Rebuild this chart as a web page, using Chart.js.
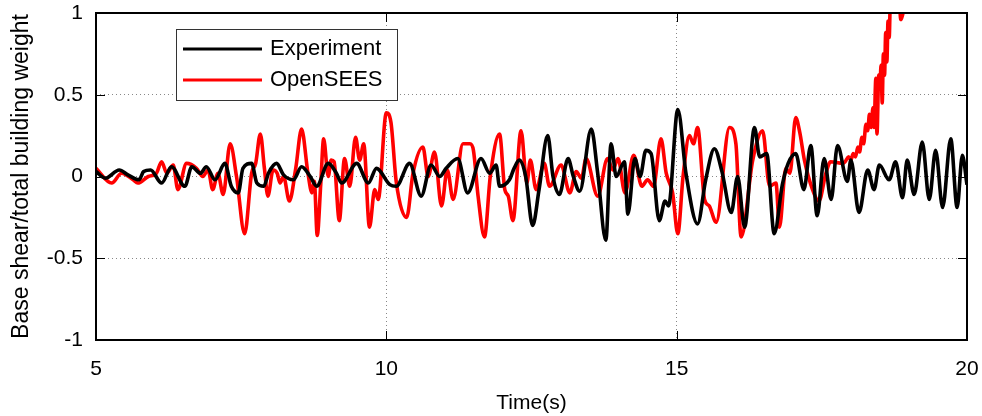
<!DOCTYPE html>
<html><head><meta charset="utf-8">
<script src="https://cdn.jsdelivr.net/npm/chart.js@4"></script>
<style>html,body{margin:0;padding:0;background:#fff;}canvas{display:block;}</style>
</head><body>
<canvas id="c" width="982" height="416"></canvas>
<script>
// ---- data ----
const seriesNames = ['Experiment', 'OpenSEES'];
const xTickValues = [5, 10, 15, 20];
const yTickValues = [-1, -0.5, 0, 0.5, 1];
const xTitle = 'Time(s)';
const yTitle = 'Base shear/total building weight';

const expTime = [5.0,5.16,5.4,5.55,5.74,5.82,5.94,6.13,6.3,6.53,6.65,6.8,6.9,7.05,7.22,7.33,7.45,7.53,7.68,7.77,7.89,7.97,8.11,8.23,8.4,8.54,8.69,8.8,9.0,9.14,9.23,9.49,9.69,9.83,10.06,10.17,10.4,10.6,10.77,10.92,11.03,11.23,11.4,11.63,11.78,11.89,11.95,12.12,12.2,12.29,12.4,12.52,12.63,12.78,12.87,12.98,13.13,13.22,13.33,13.53,13.64,13.78,13.87,13.96,14.1,14.16,14.28,14.37,14.47,14.56,14.7,14.8,14.86,15.02,15.16,15.36,15.5,15.65,15.78,15.94,16.05,16.17,16.34,16.43,16.55,16.68,16.82,16.92,17.05,17.19,17.31,17.42,17.54,17.66,17.77,17.94,18.0,18.14,18.29,18.4,18.49,18.66,18.77,18.89,18.97,19.09,19.23,19.35,19.46,19.58,19.72,19.83,19.92,20.0];
const expValue = [0.03,-0.01,0.04,0.01,-0.02,0.03,0.04,-0.04,0.06,-0.06,0.06,0.02,0.06,-0.02,0.08,-0.06,-0.1,0.05,0.08,-0.04,-0.06,0.02,0.08,0.01,-0.02,0.06,0.0,-0.06,0.08,0.02,-0.04,0.08,-0.04,0.05,-0.05,-0.06,0.08,-0.12,0.07,0.0,0.05,0.11,-0.1,0.11,0.02,0.07,-0.06,-0.02,0.05,0.1,0.0,-0.3,-0.08,0.25,0.0,-0.11,0.11,0.0,-0.09,0.29,0.02,-0.39,0.2,0.0,0.09,-0.23,0.11,0.0,0.16,0.14,-0.27,-0.15,-0.18,0.41,0.02,-0.29,-0.02,0.17,0.03,-0.22,0.0,-0.31,0.3,0.12,0.14,-0.35,-0.05,0.08,0.14,-0.08,0.19,-0.24,0.11,-0.14,0.19,-0.03,0.1,-0.22,0.04,-0.08,0.07,-0.02,0.09,-0.13,0.1,-0.11,0.21,-0.14,0.16,-0.19,0.23,-0.19,0.13,-0.05];

const simTime = [5.0,5.27,5.44,5.64,5.72,5.9,6.04,6.13,6.22,6.33,6.41,6.56,6.73,6.84,6.93,7.01,7.1,7.19,7.31,7.42,7.56,7.68,7.75,7.83,7.9,7.96,8.05,8.12,8.17,8.23,8.33,8.44,8.54,8.65,8.72,8.76,8.81,8.87,8.92,9.0,9.05,9.1,9.19,9.28,9.37,9.47,9.54,9.61,9.71,9.8,9.86,10.0,10.08,10.17,10.35,10.46,10.63,10.72,10.83,10.95,11.05,11.15,11.32,11.44,11.5,11.58,11.69,11.79,11.95,12.04,12.1,12.18,12.32,12.42,12.48,12.58,12.72,12.81,13.01,13.16,13.27,13.36,13.44,13.64,13.81,13.9,13.99,14.11,14.26,14.4,14.5,14.6,14.73,14.82,14.93,15.02,15.11,15.22,15.29,15.36,15.48,15.56,15.68,15.91,16.02,16.11,16.31,16.48,16.6,16.71,16.77,16.88,16.95,17.05,17.12,17.2,17.34,17.45,17.57,17.65,17.86,17.9,17.96,18.0,18.04,18.08,18.12,18.15,18.19,18.22,18.26,18.29,18.32,18.35,18.38,18.4,18.43,18.45,18.48,18.5,18.52,18.54,18.56,18.58,18.6,18.62,18.64,18.66,18.68,18.72,18.82,18.86,18.9];
const simValue = [0.05,-0.04,0.02,-0.02,-0.04,0.0,0.02,0.09,0.02,0.07,-0.08,0.08,0.05,0.0,0.04,-0.08,0.02,-0.11,0.2,0.0,-0.35,0.02,0.08,0.26,0.05,-0.12,0.04,0.02,-0.04,0.0,-0.15,0.05,0.29,0.02,-0.1,-0.03,-0.36,-0.05,0.23,0.0,0.1,0.09,-0.27,0.11,-0.06,0.24,0.1,0.2,-0.31,-0.08,-0.14,0.39,0.33,-0.03,-0.25,0.02,0.18,0.0,0.15,-0.18,0.04,-0.14,0.2,0.2,0.16,-0.12,-0.37,0.0,0.26,-0.08,-0.12,-0.27,0.28,-0.04,0.1,-0.08,0.08,-0.06,0.07,-0.1,0.03,-0.01,0.11,-0.12,0.11,0.04,0.11,-0.1,0.13,-0.06,-0.02,-0.06,0.23,0.02,-0.1,-0.35,0.0,0.25,0.2,0.3,-0.14,-0.18,-0.28,0.3,0.2,-0.37,0.1,0.28,-0.06,-0.04,-0.31,0.05,0.02,0.36,0.27,0.1,-0.08,-0.15,0.02,0.09,0.08,0.09,0.12,0.1,0.14,0.12,0.18,0.15,0.24,0.2,0.32,0.28,0.38,0.3,0.42,0.3,0.6,0.26,0.62,0.55,0.68,0.45,0.75,0.62,0.88,0.7,0.95,0.85,1.1,1.3,1.2,0.96,1.0];

const seriesColors = ['#000000', '#ff0000'];

// ---- chart ----
const FONT = '"Liberation Sans", Arial, Helvetica, sans-serif';
const toPoints = (t, v) => t.map((x, i) => ({x: x, y: v[i]}));

const framePlugin = {
  id: 'frameAndLegend',
  afterDatasetsDraw(chart) {
    const ctx = chart.ctx, a = chart.chartArea;
    const xs = chart.scales.x, ys = chart.scales.y;
    ctx.save();
    // inward ticks
    ctx.strokeStyle = '#000'; ctx.lineWidth = 1;
    ctx.beginPath();
    xTickValues.forEach(v => {
      const p = Math.round(xs.getPixelForValue(v)) + 0.5;
      ctx.moveTo(p, a.bottom); ctx.lineTo(p, a.bottom - 9);
      ctx.moveTo(p, a.top); ctx.lineTo(p, a.top + 9);
    });
    yTickValues.forEach(v => {
      const p = Math.round(ys.getPixelForValue(v)) + 0.5;
      ctx.moveTo(a.left, p); ctx.lineTo(a.left + 9, p);
      ctx.moveTo(a.right, p); ctx.lineTo(a.right - 9, p);
    });
    ctx.stroke();
    // frame
    ctx.lineWidth = 2;
    ctx.strokeRect(a.left, a.top, a.right - a.left, a.bottom - a.top);
    // legend
    const lx = a.left + 80, ly = a.top + 16, lw = 221, lh = 71;
    ctx.fillStyle = '#fff';
    ctx.fillRect(lx, ly, lw, lh);
    ctx.lineWidth = 1; ctx.strokeStyle = '#333';
    ctx.strokeRect(lx + 0.5, ly + 0.5, lw, lh);
    ctx.font = '22px ' + FONT;
    ctx.textBaseline = 'middle'; ctx.textAlign = 'left';
    chart.data.datasets.forEach((ds, i) => {
      const cy = ly + 20 + i * 31;
      ctx.strokeStyle = ds.borderColor; ctx.lineWidth = 3;
      ctx.beginPath(); ctx.moveTo(lx + 7, cy); ctx.lineTo(lx + 86, cy); ctx.stroke();
      ctx.fillStyle = '#000';
      ctx.fillText(ds.label, lx + 94, cy);
    });
    ctx.restore();
  }
};

new Chart(document.getElementById('c'), {
  type: 'line',
  data: {
    datasets: [
      {label: seriesNames[0], data: toPoints(expTime, expValue), borderColor: seriesColors[0], borderWidth: 3.6, pointRadius: 0, cubicInterpolationMode: 'monotone', fill: false},
      {label: seriesNames[1], data: toPoints(simTime, simValue), borderColor: seriesColors[1], borderWidth: 3.6, pointRadius: 0, cubicInterpolationMode: 'monotone', fill: false}
    ]
  },
  options: {
    responsive: false,
    animation: false,
    events: [],
    layout: {padding: {left: 0, right: 15, top: 13, bottom: 0}},
    plugins: {legend: {display: false}, tooltip: {enabled: false}},
    scales: {
      x: {
        type: 'linear', min: 5, max: 20,
        afterBuildTicks: s => { s.ticks = xTickValues.map(v => ({value: v})); },
        afterFit: s => { s.height = 76; s.paddingLeft = 0; s.paddingRight = 0; },
        ticks: {font: {family: FONT, size: 21}, color: '#000', padding: 17, callback: v => String(v), maxRotation: 0},
        grid: {color: '#888', lineWidth: 1, drawTicks: false},
        border: {display: false, dash: [1, 3]},
        title: {display: true, text: xTitle, font: {family: FONT, size: 21}, color: '#000', padding: {top: 0, bottom: 0}}
      },
      y: {
        type: 'linear', min: -1, max: 1,
        afterBuildTicks: s => { s.ticks = yTickValues.map(v => ({value: v})); },
        afterFit: s => { s.width = 96; s.paddingTop = 0; s.paddingBottom = 0; },
        ticks: {font: {family: FONT, size: 21}, color: '#000', padding: 13, callback: v => String(v)},
        grid: {color: '#888', lineWidth: 1, drawTicks: false},
        border: {display: false, dash: [1, 3]},
        title: {display: true, text: yTitle, font: {family: FONT, size: 23}, color: '#000', padding: {top: 8, bottom: 0}}
      }
    }
  },
  plugins: [framePlugin]
});
</script>
</body></html>
